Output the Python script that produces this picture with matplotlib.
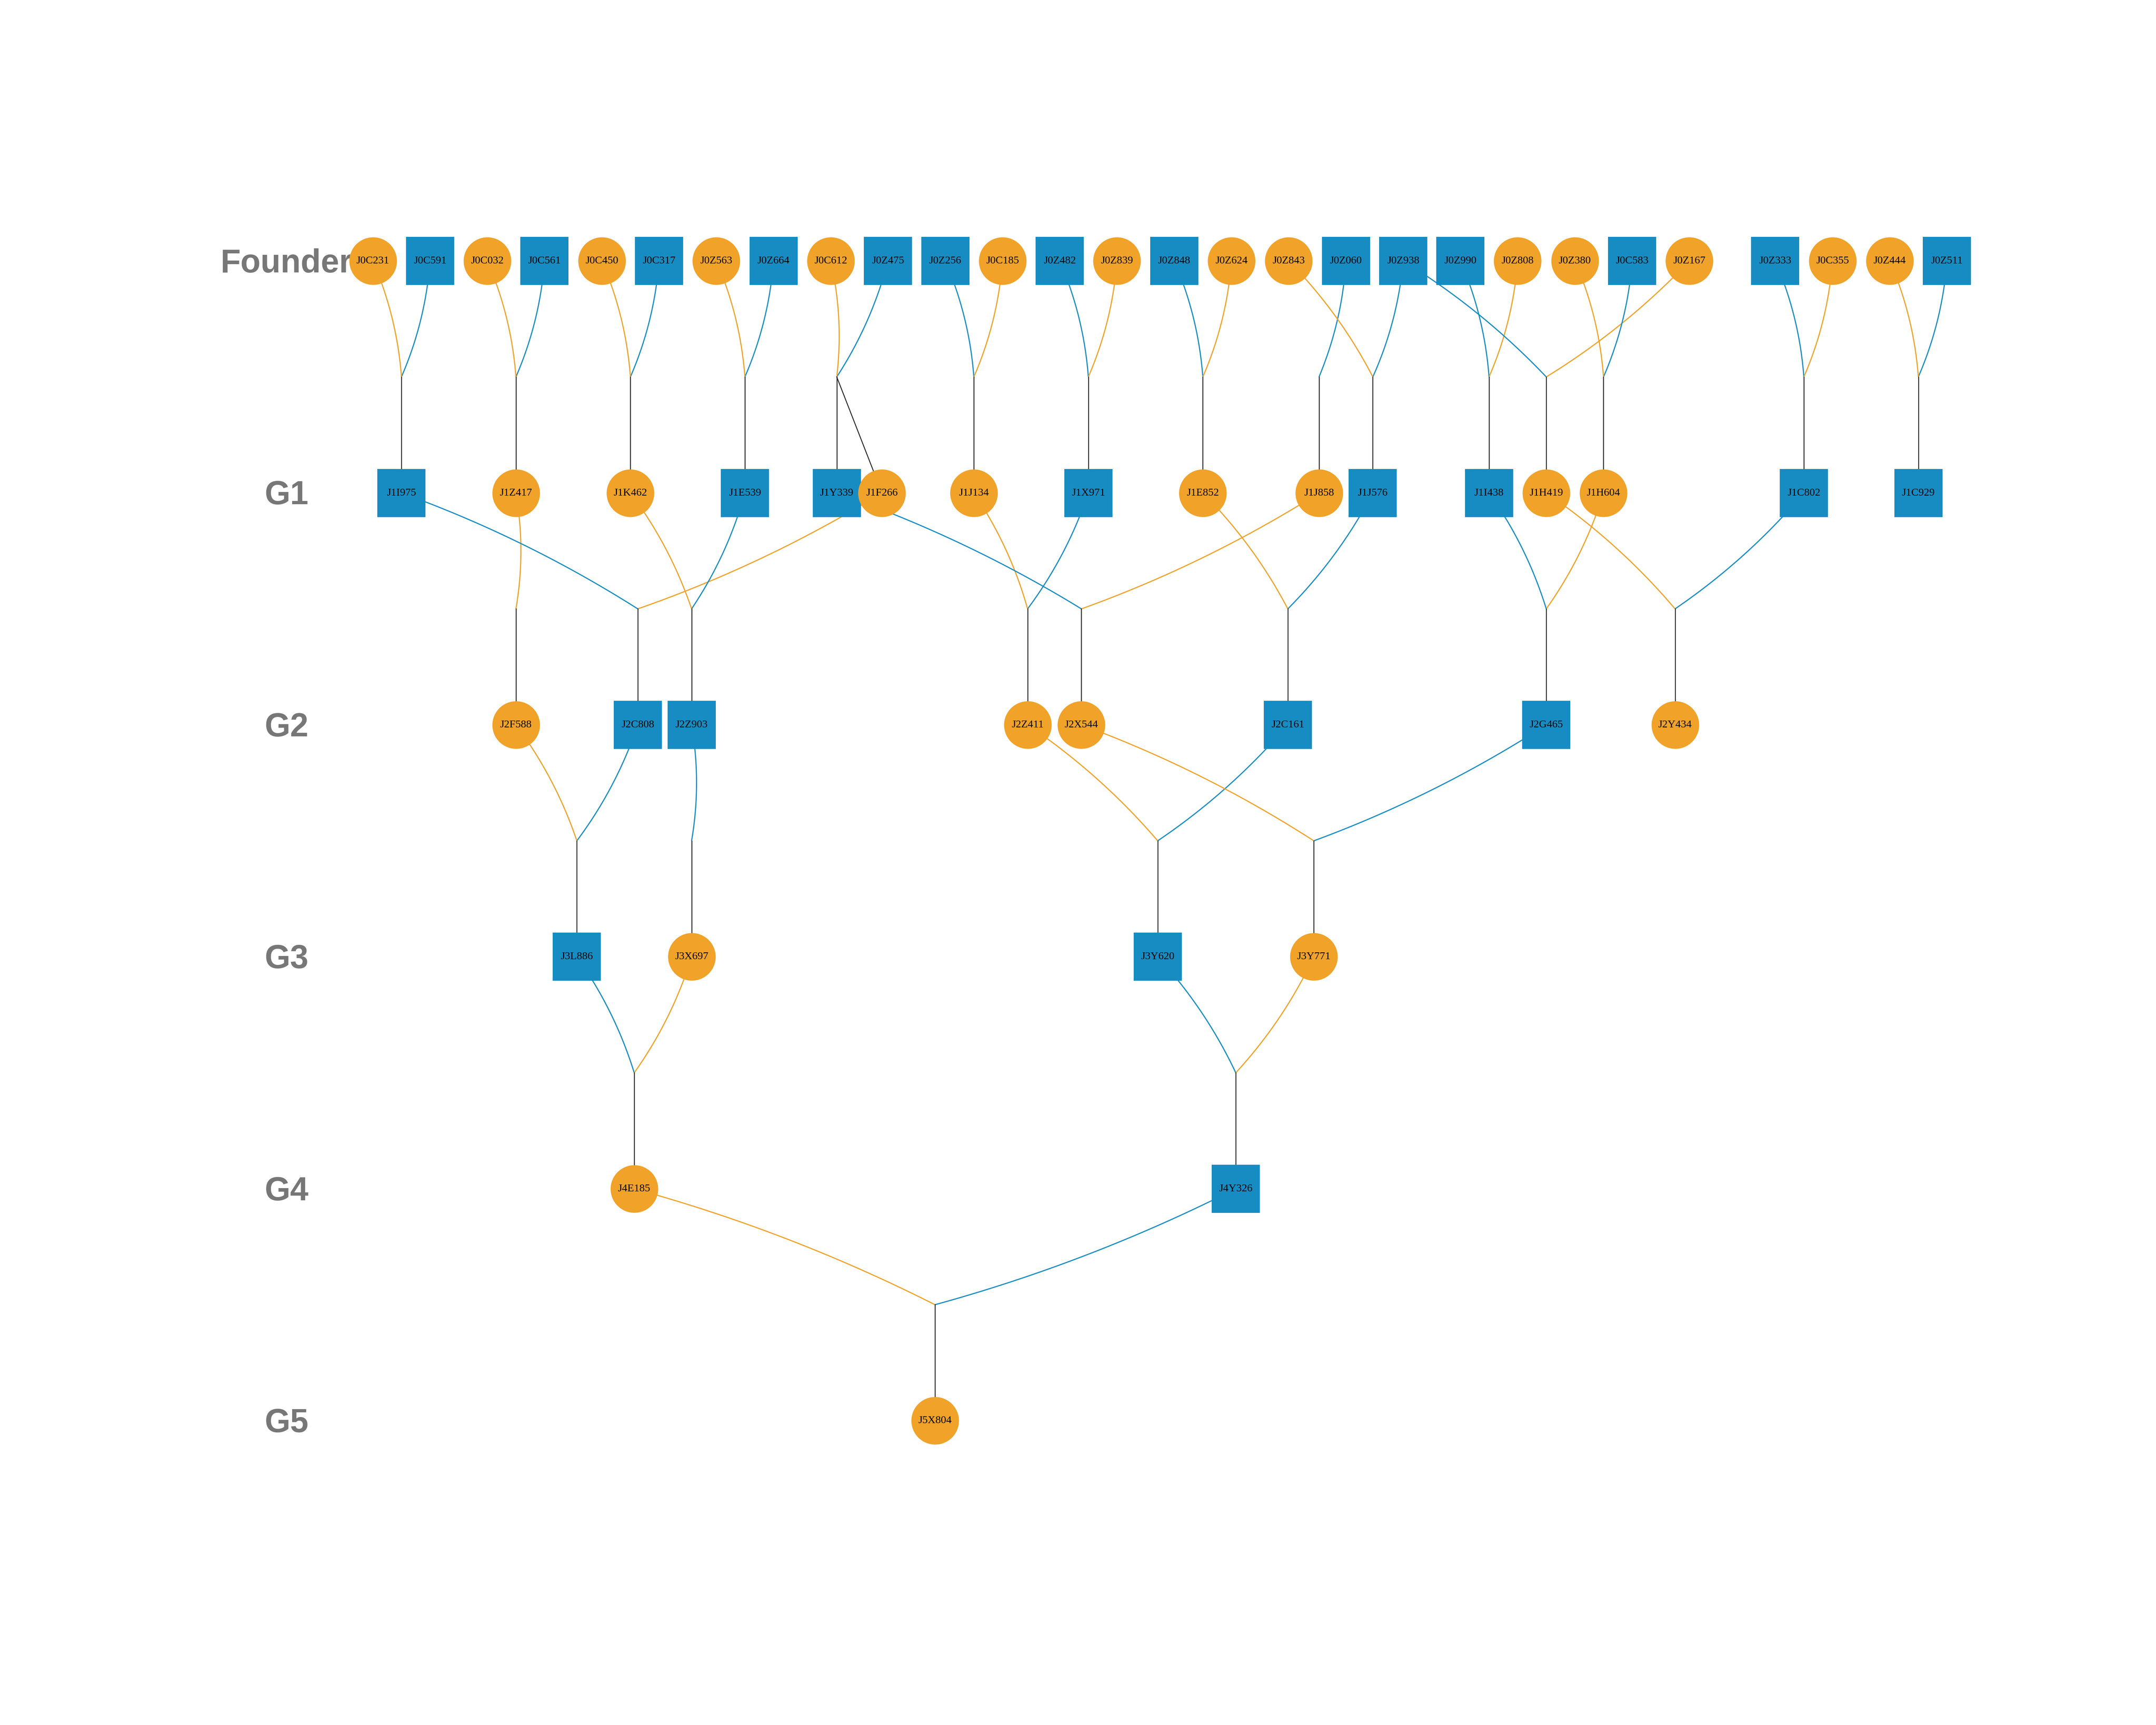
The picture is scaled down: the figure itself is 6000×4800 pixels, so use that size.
import numpy as np
import matplotlib
matplotlib.use("Agg")
import matplotlib.pyplot as plt

# Pedigree data: id, sex, generation, father, mother
founders = ["J0C231", "J0C591", "J0C032", "J0C561", "J0C450", "J0C317", "J0Z563",
            "J0Z664", "J0C612", "J0Z475", "J0Z256", "J0C185", "J0Z482", "J0Z839",
            "J0Z848", "J0Z624", "J0Z843", "J0Z060", "J0Z938", "J0Z990", "J0Z808",
            "J0Z380", "J0C583", "J0Z167", "J0Z333", "J0C355", "J0Z444", "J0Z511"]
founder_sex = ["F", "M", "F", "M", "F", "M", "F",
               "M", "F", "M", "M", "F", "M", "F",
               "M", "F", "F", "M", "M", "M", "F",
               "F", "M", "F", "M", "F", "F", "M"]

offspring = ["J1I975", "J1Z417", "J1K462", "J1E539", "J1Y339", "J1F266", "J1J134",
             "J1X971", "J1E852", "J1J858", "J1J576", "J1I438", "J1H419", "J1H604",
             "J1C802", "J1C929",
             "J2F588", "J2C808", "J2Z903", "J2Z411", "J2X544", "J2C161", "J2G465",
             "J2Y434",
             "J3L886", "J3X697", "J3Y620", "J3Y771",
             "J4E185", "J4Y326",
             "J5X804"]
offspring_sex = ["M", "F", "F", "M", "M", "F", "F",
                 "M", "F", "F", "M", "M", "F", "F",
                 "M", "M",
                 "F", "M", "M", "F", "F", "M", "M",
                 "F",
                 "M", "F", "M", "F",
                 "F", "M",
                 "F"]
offspring_gen = [1] * 16 + [2] * 8 + [3] * 4 + [4] * 2 + [5]
fathers = ["J0C591", "J0C561", "J0C317", "J0Z664", "J0Z475", "J0Z475", "J0Z256",
           "J0Z482", "J0Z848", "J0Z060", "J0Z938", "J0Z990", "J0Z938", "J0C583",
           "J0Z333", "J0Z511",
           None, "J1I975", "J1E539", "J1X971", "J1Y339", "J1J576", "J1I438",
           "J1C802",
           "J2C808", "J2Z903", "J2C161", "J2G465",
           "J3L886", "J3Y620",
           "J4Y326"]
mothers = ["J0C231", "J0C032", "J0C450", "J0Z563", "J0C612", "J0C612", "J0C185",
           "J0Z839", "J0Z624", None, "J0Z843", "J0Z808", "J0Z167", "J0Z380",
           "J0C355", "J0Z444",
           "J1Z417", "J1F266", "J1K462", "J1J134", "J1J858", "J1E852", "J1H604",
           "J1H419",
           "J2F588", None, "J2Z411", "J2X544",
           "J3X697", "J3Y771",
           "J4E185"]

row_labels = ["Founder", "G1", "G2", "G3", "G4", "G5"]

# layout settings
gap_before = "J0Z333"      # extra space in the founder row
sib_step = 0.79            # spacing between full siblings
min_gap = 0.94             # minimum spacing between unrelated nodes
orange = "#F0A229"
blue = "#178CC2"

sex = dict(zip(founders, founder_sex))
sex.update(dict(zip(offspring, offspring_sex)))
gen = {f: 0 for f in founders}
gen.update(dict(zip(offspring, offspring_gen)))

# founders get consecutive slots
xpos = {}
slot = 0.0
for f in founders:
    if f == gap_before:
        slot += 0.5
    xpos[f] = slot
    slot += 1

# offspring: grouped by parent pair, centred under the parents
families = []
for g in range(1, 6):
    fams = {}
    order = []
    for c, fa, mo, gg in zip(offspring, fathers, mothers, offspring_gen):
        if gg != g:
            continue
        key = (fa, mo)
        if key not in fams:
            fams[key] = []
            order.append(key)
        fams[key].append(c)
    fam_of = {}
    for key in order:
        kids = fams[key]
        par = [p for p in key if p is not None]
        centre = np.mean([xpos[p] for p in par])
        for i, c in enumerate(kids):
            xpos[c] = centre + (i - (len(kids) - 1) / 2) * sib_step
            fam_of[c] = key
    # push apart unrelated nodes that sit too close
    row = sorted([c for c in fam_of], key=lambda c: xpos[c])
    for a, b in zip(row[:-1], row[1:]):
        if fam_of[a] != fam_of[b] and xpos[b] - xpos[a] < min_gap:
            shift = (min_gap - (xpos[b] - xpos[a])) / 2
            xpos[a] -= shift
            xpos[b] += shift
    for key in order:
        families.append((g, key, fams[key]))

fig = plt.figure(figsize=(20, 16), dpi=300)
ax = fig.add_axes([0, 0, 1, 1])
ax.set_xlim(-6.513, 31.152)
ax.set_ylim(6.312, -1.125)
ax.axis("off")


def curved(p0, p1, color):
    # gently bowed line, drawn in pixel space
    a = ax.transData.transform(p0)
    b = ax.transData.transform(p1)
    d = b - a
    L = np.hypot(*d)
    n = np.array([-d[1], d[0]]) / L
    dev = 9 + 0.015 * L
    ctrl = (a + b) / 2 + n * 2 * dev
    t = np.linspace(0, 1, 60)[:, None]
    pts = (1 - t) ** 2 * a + 2 * t * (1 - t) * ctrl + t ** 2 * b
    pts = ax.transData.inverted().transform(pts)
    ax.plot(pts[:, 0], pts[:, 1], color=color, lw=0.75, zorder=1,
            solid_capstyle="butt")


for g, key, kids in families:
    jx = xpos[kids[0]]
    jy = g - 0.5
    for p in key:
        if p is None:
            continue
        curved((xpos[p], gen[p]), (jx, jy), blue if sex[p] == "M" else orange)
    for c in kids:
        ax.plot([jx, xpos[c]], [jy, g], color="#222222", lw=0.6, zorder=1)

# nodes
everyone = founders + offspring
xs = np.array([xpos[i] for i in everyone])
ys = np.array([gen[i] for i in everyone])
males = np.array([sex[i] == "M" for i in everyone])
ax.scatter(xs[males], ys[males], s=1034, marker="s", color=blue,
           linewidths=0, zorder=3)
ax.scatter(xs[~males], ys[~males], s=1010, marker="o", color=orange,
           linewidths=0, zorder=3)
for i in everyone:
    ax.text(xpos[i], gen[i], i, ha="center", va="center", fontsize=7.2,
            family="Liberation Serif", color="black", zorder=4)

for g, lab in enumerate(row_labels):
    ax.text(-1.51, g + 0.012, lab, ha="center", va="center", fontsize=22,
            fontweight="bold", family="Liberation Sans", color="#777777",
            zorder=2)

fig.savefig("out.png", dpi=300, facecolor="white")
